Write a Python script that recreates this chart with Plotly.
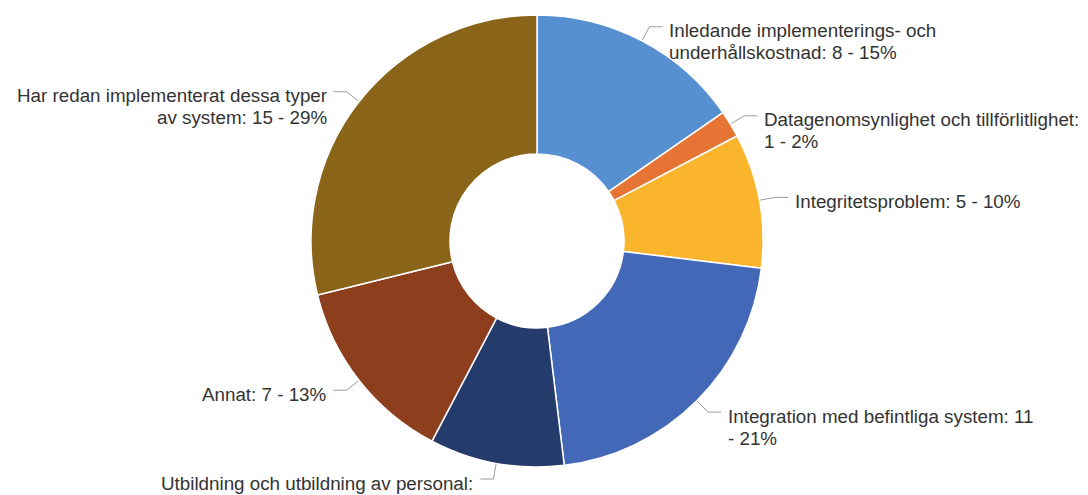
import math
import textwrap
import plotly.graph_objects as go

# Survey answers, clockwise from 12 o'clock
categories = [
    "Inledande implementerings- och underhållskostnad",
    "Datagenomsynlighet och tillförlitlighet",
    "Integritetsproblem",
    "Integration med befintliga system",
    "Utbildning och utbildning av personal",
    "Annat",
    "Har redan implementerat dessa typer av system",
]
counts = [8, 1, 5, 11, 5, 7, 15]
colors = ["#5790D0", "#E67434", "#FBB52C", "#4468B8", "#253B6B", "#8D3E1D", "#8A6519"]
# Character width at which each outside label wraps
wrap_widths = [31, 40, 40, 38, 38, 40, 36]

W, H = 1088, 495
CX, CY, R = 537, 241, 226          # donut centre and outer radius in pixels
HOLE = 0.385
FONT = dict(family="Liberation Sans, Arial, Helvetica, sans-serif", size=18.8, color="#333333")
LINE_H = 22


def px(x):
    return x / W


def py(y):
    return 1 - y / H


total = sum(counts)

fig = go.Figure(
    go.Pie(
        labels=categories,
        values=counts,
        sort=False,
        direction="clockwise",
        rotation=0,
        hole=HOLE,
        marker=dict(colors=colors, line=dict(color="#ffffff", width=1.5)),
        textinfo="none",
        hoverinfo="label+value+percent",
        showlegend=False,
        domain=dict(x=[px(CX - R), px(CX + R)], y=[py(CY + R), py(CY - R)]),
    )
)

shapes = []
annotations = []
cum = 0
for name, v, ww in zip(categories, counts, wrap_widths):
    mid = (cum + v / 2) / total * 2 * math.pi
    cum += v
    sx, sy = math.sin(mid), -math.cos(mid)
    x0, y0 = CX + (R + 1) * sx, CY + (R + 1) * sy
    x1, y1 = CX + (R + 16) * sx, CY + (R + 16) * sy
    side = 1 if sx >= -0.05 and mid < math.pi else -1
    x2 = x1 + 13 * side
    line = dict(color="#9a9a9a", width=1)
    shapes.append(dict(type="line", xref="paper", yref="paper",
                       x0=px(x0), y0=py(y0), x1=px(x1), y1=py(y1), line=line))
    shapes.append(dict(type="line", xref="paper", yref="paper",
                       x0=px(x1), y0=py(y1), x1=px(x2), y1=py(y1), line=line))

    pct = round(v / total * 100)
    text = f"{name}: {v} - {pct}%"
    lines = textwrap.wrap(text, ww, break_on_hyphens=False)
    tx = x2 + 5 * side
    for i, ln in enumerate(lines):
        annotations.append(dict(
            x=px(tx), y=py(y1 + 4 + i * LINE_H), xref="paper", yref="paper",
            text=ln, showarrow=False, font=FONT,
            xanchor="left" if side > 0 else "right", yanchor="middle",
        ))

fig.update_layout(
    width=W, height=H,
    margin=dict(l=0, r=0, t=0, b=0),
    paper_bgcolor="#ffffff",
    plot_bgcolor="#ffffff",
    shapes=shapes,
    annotations=annotations,
)

fig.write_html("out.html")
